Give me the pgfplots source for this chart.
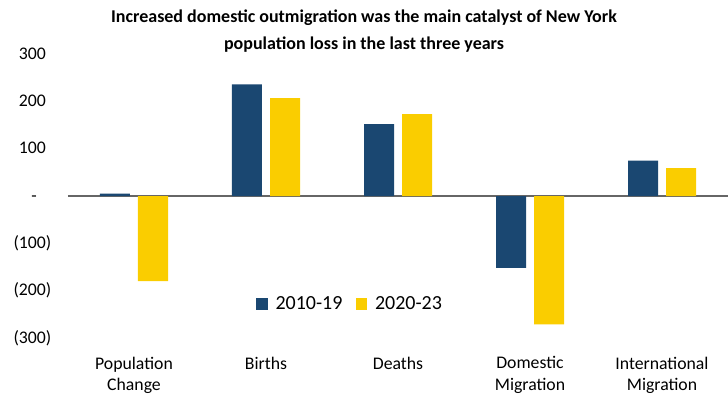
\documentclass[border=0pt]{standalone}
\usepackage{pgfplots}
\pgfplotsset{compat=1.18}
\usepackage{fontspec}
\setmainfont{Carlito}
\definecolor{navy}{HTML}{1A4771}
\definecolor{gold}{HTML}{FACD00}
\begin{document}
\begin{tikzpicture}
\begin{axis}[
  name=ax,
  scale only axis,
  width=495pt, height=213pt,
  xmin=-0.5, xmax=4.5,
  ymin=-300, ymax=300,
  ybar=6pt, bar width=22.5pt,
  axis line style={draw=none},
  major tick length=0pt,
  xtick={0,1,2,3,4},
  xticklabels={Population\\Change, Births, Deaths, Domestic\\Migration, International\\Migration},
  xticklabel style={align=center, font=\fontsize{13.3}{16}\selectfont, yshift=-10.5pt},
  ytick={-300,-200,-100,0,100,200,300},
  yticklabels={(300),(200),(100),{-\phantom{0)}},{100\phantom{)}},{200\phantom{)}},{300\phantom{)}}},
  yticklabel style={font=\fontsize{13.3}{16}\selectfont, xshift=-9pt},
  /pgf/number format/assume math mode=true,
  legend columns=2,
  legend style={at={(0.428,0.12)}, anchor=center, draw=none, fill=none,
    font=\fontsize{15}{18}\selectfont, column sep=4pt,
    /tikz/every even column/.append style={column sep=8pt}},
  legend image code/.code={\fill[#1] (0pt,-4.2pt) rectangle (8.4pt,4.2pt);},
  clip=false,
]
\draw[gray!80!black, line width=0.8pt] (axis cs:-0.5,0) -- (axis cs:4.5,0);
\addplot[fill=navy, draw=none] coordinates {(0,5) (1,236) (2,152) (3,-152) (4,75)};
\addplot[fill=gold, draw=none] coordinates {(0,-180) (1,207) (2,173) (3,-271) (4,59)};
\legend{2010-19, 2020-23}
\end{axis}
\node[font=\bfseries\fontsize{13.5}{20}\selectfont, align=center, anchor=center] at (222pt,230pt)
  {Increased domestic outmigration was the main catalyst of New York\\population loss in the last three years};
\pgfresetboundingbox
\path[use as bounding box] (-51pt,-41.25pt) rectangle (495pt,253.5pt);
\end{tikzpicture}
\end{document}
